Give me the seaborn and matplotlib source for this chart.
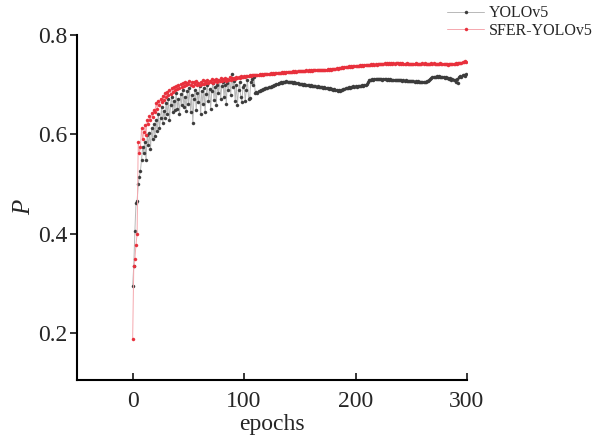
import numpy as np
import pandas as pd
import matplotlib
matplotlib.use("Agg")
import matplotlib.pyplot as plt
import seaborn as sns

# Precision per epoch
yolo_p = [
    0.295, 0.335, 0.405, 0.462, 0.466, 0.500, 0.515, 0.527, 0.549, 0.575,
    0.562, 0.585, 0.548, 0.598, 0.578, 0.603, 0.571, 0.612, 0.590, 0.620,
    0.596, 0.628, 0.606, 0.641, 0.612, 0.632, 0.655, 0.622, 0.648, 0.633,
    0.664, 0.640, 0.671, 0.628, 0.660, 0.676, 0.645, 0.668, 0.650, 0.683,
    0.652, 0.672, 0.640, 0.681, 0.660, 0.690, 0.655, 0.676, 0.648, 0.688,
    0.662, 0.694, 0.645, 0.680, 0.623, 0.672, 0.690, 0.650, 0.684, 0.665,
    0.697, 0.640, 0.688, 0.662, 0.694, 0.645, 0.682, 0.700, 0.668, 0.692,
    0.652, 0.688, 0.704, 0.670, 0.695, 0.660, 0.700, 0.683, 0.710, 0.672,
    0.698, 0.706, 0.675, 0.700, 0.662, 0.704, 0.690, 0.712, 0.680, 0.722,
    0.695, 0.708, 0.668, 0.700, 0.660, 0.690, 0.706, 0.675, 0.665, 0.695,
    0.700, 0.668, 0.690, 0.710, 0.672, 0.673, 0.705, 0.712, 0.700, 0.715,
    0.684, 0.686, 0.683, 0.687, 0.688, 0.690, 0.689, 0.691, 0.692, 0.693,
    0.694, 0.693, 0.695, 0.696, 0.695, 0.697, 0.698, 0.699, 0.700, 0.701,
    0.702, 0.703, 0.704, 0.705, 0.704, 0.706, 0.705, 0.706, 0.707, 0.706,
    0.706, 0.705, 0.706, 0.705, 0.704, 0.705, 0.704, 0.703, 0.703, 0.702,
    0.702, 0.701, 0.701, 0.700, 0.701, 0.700, 0.699, 0.700, 0.699, 0.698,
    0.699, 0.698, 0.697, 0.698, 0.697, 0.696, 0.697, 0.696, 0.695, 0.696,
    0.695, 0.694, 0.695, 0.694, 0.693, 0.694, 0.692, 0.693, 0.691, 0.692,
    0.690, 0.691, 0.689, 0.690, 0.688, 0.689, 0.687, 0.689, 0.690, 0.692,
    0.691, 0.693, 0.694, 0.693, 0.695, 0.694, 0.696, 0.695, 0.697, 0.696,
    0.697, 0.696, 0.698, 0.697, 0.698, 0.697, 0.699, 0.698, 0.699, 0.700,
    0.702, 0.706, 0.709, 0.710, 0.709, 0.711, 0.710, 0.711, 0.712, 0.711,
    0.712, 0.711, 0.712, 0.711, 0.710, 0.711, 0.712, 0.711, 0.710, 0.711,
    0.710, 0.711, 0.710, 0.709, 0.710, 0.709, 0.710, 0.709, 0.710, 0.709,
    0.709, 0.710, 0.708, 0.709, 0.708, 0.709, 0.708, 0.707, 0.708, 0.707,
    0.708, 0.707, 0.708, 0.706, 0.707, 0.706, 0.707, 0.706, 0.705, 0.706,
    0.705, 0.706, 0.705, 0.706, 0.707, 0.708, 0.710, 0.712, 0.714, 0.715,
    0.716, 0.715, 0.716, 0.717, 0.716, 0.717, 0.716, 0.715, 0.716, 0.715,
    0.714, 0.715, 0.713, 0.714, 0.712, 0.713, 0.710, 0.711, 0.709, 0.710,
    0.706, 0.712, 0.703, 0.715, 0.718, 0.716, 0.719, 0.720, 0.718, 0.721,
]

sfer_p = [
    0.187, 0.334, 0.350, 0.378, 0.400, 0.585, 0.562, 0.575, 0.613, 0.590,
    0.605, 0.618, 0.598, 0.629, 0.620, 0.636, 0.628, 0.643, 0.635, 0.650,
    0.645, 0.663, 0.652, 0.668, 0.660, 0.672, 0.665, 0.678, 0.670, 0.683,
    0.675, 0.686, 0.680, 0.690, 0.682, 0.693, 0.686, 0.695, 0.689, 0.697,
    0.692, 0.700, 0.694, 0.702, 0.696, 0.704, 0.698, 0.706, 0.699, 0.703,
    0.701, 0.707, 0.700, 0.705, 0.698, 0.706, 0.702, 0.708, 0.700, 0.703,
    0.699, 0.705, 0.701, 0.709, 0.702, 0.707, 0.704, 0.710, 0.703, 0.708,
    0.705, 0.711, 0.704, 0.709, 0.707, 0.712, 0.706, 0.710, 0.708, 0.713,
    0.707, 0.711, 0.709, 0.714, 0.708, 0.712, 0.710, 0.715, 0.709, 0.713,
    0.711, 0.714, 0.712, 0.716, 0.713, 0.715, 0.714, 0.717, 0.715, 0.716,
    0.717, 0.716, 0.718, 0.717, 0.718, 0.719, 0.718, 0.719, 0.720, 0.719,
    0.719, 0.720, 0.719, 0.720, 0.721, 0.720, 0.721, 0.720, 0.721, 0.722,
    0.721, 0.722, 0.721, 0.722, 0.723, 0.722, 0.723, 0.722, 0.723, 0.724,
    0.723, 0.724, 0.723, 0.724, 0.725, 0.724, 0.725, 0.724, 0.725, 0.726,
    0.725, 0.726, 0.725, 0.726, 0.727, 0.726, 0.727, 0.726, 0.727, 0.728,
    0.727, 0.728, 0.727, 0.728, 0.727, 0.728, 0.729, 0.728, 0.729, 0.728,
    0.729, 0.728, 0.729, 0.730, 0.729, 0.730, 0.729, 0.730, 0.729, 0.730,
    0.730, 0.729, 0.730, 0.729, 0.730, 0.731, 0.730, 0.731, 0.730, 0.731,
    0.731, 0.732, 0.731, 0.733, 0.732, 0.733, 0.734, 0.733, 0.735, 0.734,
    0.735, 0.736, 0.735, 0.736, 0.737, 0.736, 0.737, 0.736, 0.737, 0.738,
    0.737, 0.738, 0.737, 0.738, 0.739, 0.738, 0.739, 0.738, 0.739, 0.740,
    0.739, 0.740, 0.739, 0.740, 0.741, 0.740, 0.741, 0.740, 0.741, 0.740,
    0.741, 0.742, 0.741, 0.742, 0.741, 0.742, 0.743, 0.742, 0.743, 0.742,
    0.743, 0.742, 0.743, 0.742, 0.743, 0.742, 0.743, 0.744, 0.743, 0.742,
    0.743, 0.742, 0.743, 0.742, 0.741, 0.742, 0.743, 0.742, 0.741, 0.742,
    0.741, 0.742, 0.741, 0.742, 0.743, 0.742, 0.741, 0.742, 0.741, 0.742,
    0.743, 0.742, 0.743, 0.742, 0.741, 0.742, 0.741, 0.742, 0.743, 0.742,
    0.743, 0.742, 0.741, 0.742, 0.741, 0.742, 0.743, 0.742, 0.741, 0.742,
    0.741, 0.742, 0.741, 0.740, 0.741, 0.742, 0.741, 0.742, 0.741, 0.742,
    0.743, 0.742, 0.743, 0.744, 0.743, 0.744, 0.745, 0.746, 0.747, 0.746,
]

epochs = list(range(len(yolo_p)))

sns.set_style("ticks")
plt.rcParams['font.family'] = ['Liberation Serif', 'DejaVu Serif']

fig = plt.figure(figsize=(6.01, 4.38), dpi=100)
ax = fig.add_axes([0.128, 0.132, 0.649, 0.788])

# YOLOv5: light grey line, dark markers
sns.lineplot(x=epochs, y=yolo_p, ax=ax, color="#b8b8b8", linewidth=0.7,
             marker="o", markersize=2.2, markerfacecolor="#3c3c3c",
             markeredgecolor="#3c3c3c", markeredgewidth=0.3, label="YOLOv5")
# SFER-YOLOv5: pink line, red markers
sns.lineplot(x=epochs, y=sfer_p, ax=ax, color="#f5a8ae", linewidth=0.7,
             marker="o", markersize=2.2, markerfacecolor="#e8303c",
             markeredgecolor="#e8303c", markeredgewidth=0.3, label="SFER-YOLOv5")

ax.set_xlim(-50, 300)
ax.set_ylim(0.105, 0.8)
ax.set_xticks([0, 100, 200, 300])
ax.set_yticks([0.2, 0.4, 0.6, 0.8])
ax.set_yticklabels(["0.2", "0.4", "0.6", "0.8"])
ax.tick_params(axis="x", direction="in", length=5, width=1.3, labelsize=17, pad=8)
ax.tick_params(axis="y", direction="out", length=5, width=1.3, labelsize=17, pad=2)
ax.set_xlabel("epochs", fontsize=17, labelpad=1)
ax.set_ylabel("P", fontsize=18, fontstyle="italic", labelpad=2)
sns.despine(ax=ax)
for s in ["left", "bottom"]:
    ax.spines[s].set_linewidth(1.5)
    ax.spines[s].set_color("black")

ax.get_legend().remove()
handles, labels = ax.get_legend_handles_labels()
fig.legend(handles, labels, loc="upper left", bbox_to_anchor=(0.744, 0.988),
           frameon=False, fontsize=11.5, borderpad=0, borderaxespad=0,
           handlelength=2.3, handletextpad=0.3, labelspacing=0.1)

fig.savefig("out.png", dpi=100)
